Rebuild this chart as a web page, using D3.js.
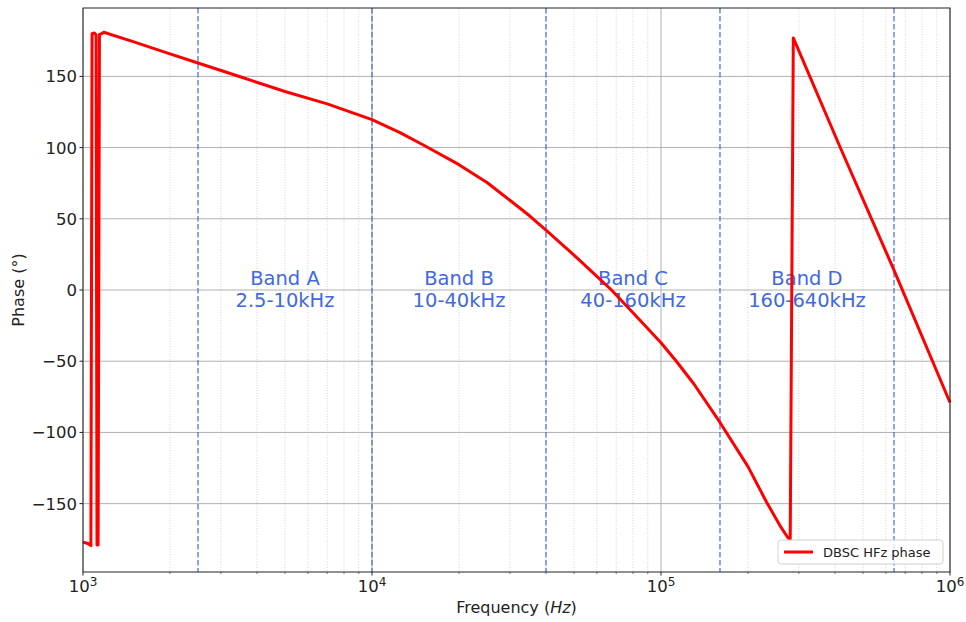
<!DOCTYPE html>
<html>
<head>
<meta charset="utf-8">
<script src="https://cdn.jsdelivr.net/npm/d3@7"></script>
<style>
body { margin: 0; background: #fff; }
text { font-family: "DejaVu Sans", sans-serif; }
</style>
</head>
<body>
<script>
var margin = {top: 8, right: 16, bottom: 50, left: 83},
    width = 966 - margin.left - margin.right,
    height = 622 - margin.top - margin.bottom;

var freq = [1000, 1040, 1065, 1075, 1095, 1110, 1118, 1128, 1140, 1160, 1180,
    1500, 2000, 2500, 3500, 5000, 7000, 10000, 12500, 15000, 20000, 25000, 30000,
    35000, 40000, 50000, 60000, 67400, 80000, 100000, 113000, 130000, 160000,
    200000, 232000, 260000, 276000, 280000, 287000, 416000, 640000, 1000000];
var phase = [-177, -178, -179.5, 180, 180.5, 179, -179, -179, 179.5, 180, 181,
    174.2, 165.8, 159.4, 149.7, 139.4, 130.7, 119.6, 110.5, 102, 88, 75.5, 63,
    52.3, 42, 24.5, 9.5, 0, -16, -37, -50, -66, -93,
    -124, -149, -166.5, -174.5, -175, 177, 100.6, 14, -79];

var bandEdges = [2500, 10000, 40000, 160000, 640000];
var bandNames = ['Band A', 'Band B', 'Band C', 'Band D'];
var bandRanges = ['2.5-10kHz', '10-40kHz', '40-160kHz', '160-640kHz'];
var yTicks = [-150, -100, -50, 0, 50, 100, 150];
var xDecades = [1000, 10000, 100000, 1000000];

var data = freq.map(function(f, i) { return {f: f, p: phase[i]}; });

var xScale = d3.scaleLog()
    .domain([1000, 1000000])
    .range([0, width]);

var yScale = d3.scaleLinear()
    .domain([-198, 198])
    .range([height, 0]);

var svg = d3.select('body')
    .append('svg')
    .attr('width', width + margin.left + margin.right)
    .attr('height', height + margin.top + margin.bottom)
    .append('g')
    .attr('transform', 'translate(' + margin.left + ',' + margin.top + ')');

// minor x positions 2..9 per decade
var minor = [];
for (var d = 0; d < 3; d++) {
    for (var k = 2; k < 10; k++) minor.push(xDecades[d] * k);
}

svg.selectAll('.minor-grid')
    .data(minor)
    .enter()
    .append('line')
    .attr('x1', function(d) { return xScale(d); })
    .attr('x2', function(d) { return xScale(d); })
    .attr('y1', 0)
    .attr('y2', height)
    .style('stroke', '#c8c8c8')
    .style('stroke-width', 0.8)
    .style('stroke-dasharray', '1,1.6');

svg.selectAll('.major-xgrid')
    .data(xDecades)
    .enter()
    .append('line')
    .attr('x1', function(d) { return xScale(d); })
    .attr('x2', function(d) { return xScale(d); })
    .attr('y1', 0)
    .attr('y2', height)
    .style('stroke', '#b0b0b0')
    .style('stroke-width', 1);

svg.selectAll('.ygrid')
    .data(yTicks)
    .enter()
    .append('line')
    .attr('x1', 0)
    .attr('x2', width)
    .attr('y1', function(d) { return yScale(d); })
    .attr('y2', function(d) { return yScale(d); })
    .style('stroke', '#b0b0b0')
    .style('stroke-width', 1);

// band separators
svg.selectAll('.band-line')
    .data(bandEdges)
    .enter()
    .append('line')
    .attr('x1', function(d) { return xScale(d); })
    .attr('x2', function(d) { return xScale(d); })
    .attr('y1', 0)
    .attr('y2', height)
    .style('stroke', '#4169e1')
    .style('stroke-opacity', 0.8)
    .style('stroke-width', 1.5)
    .style('stroke-dasharray', '5.5,2.5');

// band labels at geometric centre, y = 0
var bandLabel = svg.selectAll('.band-label')
    .data(bandNames)
    .enter()
    .append('text')
    .attr('text-anchor', 'middle')
    .style('font-size', '19.5px')
    .style('fill', '#4169e1');

bandLabel.append('tspan')
    .attr('x', function(d, i) { return xScale(Math.sqrt(bandEdges[i] * bandEdges[i + 1])); })
    .attr('y', yScale(0) - 5.5)
    .text(function(d) { return d; });

bandLabel.append('tspan')
    .attr('x', function(d, i) { return xScale(Math.sqrt(bandEdges[i] * bandEdges[i + 1])); })
    .attr('y', yScale(0) + 17)
    .text(function(d, i) { return bandRanges[i]; });

// phase curve
var line = d3.line()
    .x(function(d) { return xScale(d.f); })
    .y(function(d) { return yScale(d.p); });

svg.append('path')
    .datum(data)
    .attr('d', line)
    .style('fill', 'none')
    .style('stroke', '#ff0000')
    .style('stroke-width', 3)
    .style('stroke-linejoin', 'round');

// frame
svg.append('rect')
    .attr('x', 0)
    .attr('y', 0)
    .attr('width', width)
    .attr('height', height)
    .style('fill', 'none')
    .style('stroke', '#222')
    .style('stroke-width', 1);

// y ticks
svg.selectAll('.ytick')
    .data(yTicks)
    .enter()
    .append('line')
    .attr('x1', -3.5)
    .attr('x2', 0)
    .attr('y1', function(d) { return yScale(d); })
    .attr('y2', function(d) { return yScale(d); })
    .style('stroke', '#222');

svg.selectAll('.ylabel')
    .data(yTicks)
    .enter()
    .append('text')
    .attr('x', -6)
    .attr('y', function(d) { return yScale(d) + 6; })
    .attr('text-anchor', 'end')
    .style('font-size', '16.5px')
    .style('fill', '#222')
    .text(function(d) { return d < 0 ? '\u2212' + Math.abs(d) : d; });

// x ticks
svg.selectAll('.xminor-tick')
    .data(minor)
    .enter()
    .append('line')
    .attr('x1', function(d) { return xScale(d); })
    .attr('x2', function(d) { return xScale(d); })
    .attr('y1', height)
    .attr('y2', height + 2)
    .style('stroke', '#222')
    .style('stroke-width', 0.6);

svg.selectAll('.xtick')
    .data(xDecades)
    .enter()
    .append('line')
    .attr('x1', function(d) { return xScale(d); })
    .attr('x2', function(d) { return xScale(d); })
    .attr('y1', height)
    .attr('y2', height + 3.5)
    .style('stroke', '#222');

var xLabel = svg.selectAll('.xlabel')
    .data(xDecades)
    .enter()
    .append('text')
    .attr('x', function(d) { return xScale(d); })
    .attr('y', height + 20)
    .attr('text-anchor', 'middle')
    .style('font-size', '16.5px')
    .style('fill', '#222');

xLabel.append('tspan')
    .text('10');
xLabel.append('tspan')
    .attr('dy', -6.5)
    .style('font-size', '12px')
    .text(function(d) { return Math.round(Math.log10(d)); });

// axis titles
svg.append('text')
    .attr('x', width / 2)
    .attr('y', height + 41)
    .attr('text-anchor', 'middle')
    .style('font-size', '16px')
    .style('fill', '#222')
    .html('Frequency (<tspan font-style="italic">Hz</tspan>)');

svg.append('text')
    .attr('transform', 'translate(' + (-59) + ',' + yScale(0) + ') rotate(-90)')
    .attr('text-anchor', 'middle')
    .style('font-size', '16px')
    .style('fill', '#222')
    .text('Phase (\u00b0)');

// legend
var legend = svg.append('g')
    .attr('transform', 'translate(' + (width - 172) + ',' + (height - 32) + ')');

legend.append('rect')
    .attr('width', 165)
    .attr('height', 24)
    .attr('rx', 3)
    .style('fill', '#fff')
    .style('fill-opacity', 0.8)
    .style('stroke', '#d0d0d0');

legend.append('line')
    .attr('x1', 6)
    .attr('x2', 35)
    .attr('y1', 12)
    .attr('y2', 12)
    .style('stroke', '#ff0000')
    .style('stroke-width', 3);

legend.append('text')
    .attr('x', 45)
    .attr('y', 16.5)
    .style('font-size', '13px')
    .style('fill', '#222')
    .text('DBSC HFz phase');
</script>
</body>
</html>
